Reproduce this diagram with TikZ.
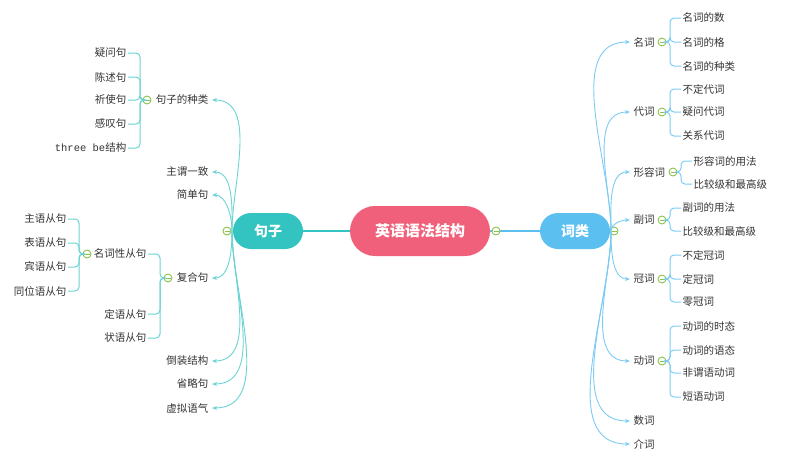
\documentclass[tikz,border=0pt]{standalone}
\usepackage{fontspec}
\setmainfont{Noto Sans CJK SC}
\newfontfamily\monof{Liberation Mono}
\usetikzlibrary{arrows.meta,calc}
\definecolor{pinkc}{HTML}{F0607A}
\definecolor{tealc}{HTML}{33C3C0}
\definecolor{bluec}{HTML}{5BC0F0}
\definecolor{tline}{HTML}{6AD3D3}
\definecolor{bline}{HTML}{7CCBF3}
\definecolor{greenc}{HTML}{8BC34A}
\definecolor{txt}{HTML}{333333}
\begin{document}
\begin{tikzpicture}[x=1pt,y=-1pt,
  every node/.style={font=\fontsize{10.5}{12}\selectfont,text=txt,inner sep=1.5pt},
  lt/.style={anchor=east},
  rt/.style={anchor=west},
  pill/.style={rounded corners=18pt,minimum height=36pt,text=white,font=\fontsize{14}{16}\selectfont\bfseries},
  col/.style={circle,draw=greenc,line width=0.9pt,fill=white,minimum size=8pt,inner sep=0pt,
    path picture={\draw[greenc,line width=0.9pt] ([xshift=-2.5pt]path picture bounding box.center) -- ([xshift=2.5pt]path picture bounding box.center);}},
  tbr/.style={draw=tline,line width=1pt,rounded corners=4pt},
  bbr/.style={draw=bline,line width=1pt,rounded corners=4pt},
  tarr/.style={draw=tline,line width=0.9pt,-{Stealth[length=5pt,width=4pt]}},
  barr/.style={draw=bline,line width=0.9pt,-{Stealth[length=5pt,width=4pt]}},
]
\useasboundingbox (0,0) rectangle (800,456);
% main connectors
\node[pill,fill=pinkc,minimum width=140pt,minimum height=50pt,rounded corners=25pt,font=\fontsize{15}{17}\selectfont\bfseries] (m) at (420,231) {英语语法结构};
\node[pill,fill=tealc,minimum width=70pt] (s) at (268,231) {句子};
\node[pill,fill=bluec,minimum width=70pt] (w) at (575,231) {词类};
\draw[tealc,line width=2pt] (m.west) -- (s.east);
\draw[bluec,line width=2pt] (m.east) -- (w.west);
\node[col] (cm) at (496,231) {};
\node[col] (cs) at (227,231) {};
\node[col] (cw) at (614,231) {};

% ----- left side -----
\coordinate (sj) at (232,231);
\node[lt] (a1) at (210,100) {句子的种类};
\node[lt] (a2) at (210,172) {主谓一致};
\node[lt] (a3) at (210,195) {简单句};
\node[lt] (a4) at (210,278) {复合句};
\node[lt] (a5) at (210,361) {倒装结构};
\node[lt] (a6) at (210,384) {省略句};
\node[lt] (a7) at (210,408) {虚拟语气};
\foreach \n/\o in {a1/90,a2/90,a3/90,a4/-90,a5/-90,a6/-90,a7/-90}
  \draw[tarr] (sj) to[out=\o,in=0,looseness=0.9] ([xshift=2pt]\n.east);

\node[col] (ca1) at (147,100) {};
\coordinate (ba1) at (140,100);
\node[lt] (b1) at (128,53) {疑问句};
\node[lt] (b2) at (128,77) {陈述句};
\node[lt] (b3) at (128,100) {祈使句};
\node[lt] (b4) at (128,124) {感叹句};
\node[lt] (b5) at (128,148) {{\monof three be}结构};
\foreach \n in {b1,b2,b3,b4,b5}
  \draw[tbr] (ca1.west) -- (ba1 |- ca1.west) |- (\n.east);

\node[col] (ca4) at (168,278) {};
\coordinate (ba4) at (160,278);
\node[lt] (d1) at (148,254) {名词性从句};
\node[lt] (d2) at (148,314) {定语从句};
\node[lt] (d3) at (148,338) {状语从句};
\foreach \n in {d1,d2,d3}
  \draw[tbr] (ca4.west) -- (ba4 |- ca4.west) |- (\n.east);

\node[col] (cd1) at (87,254) {};
\coordinate (bd1) at (79,254);
\node[lt] (e1) at (68,219) {主语从句};
\node[lt] (e2) at (68,243) {表语从句};
\node[lt] (e3) at (68,267) {宾语从句};
\node[lt] (e4) at (68,291) {同位语从句};
\foreach \n in {e1,e2,e3,e4}
  \draw[tbr] (cd1.west) -- (bd1 |- cd1.west) |- (\n.east);

% ----- right side -----
\coordinate (wj) at (611,231);
\node[rt] (p1) at (632,42) {名词};
\node[rt] (p2) at (632,112) {代词};
\node[rt] (p3) at (632,172) {形容词};
\node[rt] (p4) at (632,220) {副词};
\node[rt] (p5) at (632,279) {冠词};
\node[rt] (p6) at (632,361) {动词};
\node[rt] (p7) at (632,421) {数词};
\node[rt] (p8) at (632,444) {介词};
\foreach \n/\o in {p1/90,p2/90,p3/90,p4/90,p5/-90,p6/-90,p7/-90,p8/-90}
  \draw[barr] (wj) to[out=\o,in=180,looseness=0.9] ([xshift=-2pt]\n.west);

\node[col] (cp1) at (662,42) {};
\coordinate (bp1) at (670,42);
\foreach \n/\y/\t in {q1/18/名词的数,q2/42/名词的格,q3/66/名词的种类}{
  \node[rt] (\n) at (681,\y) {\t};
  \draw[bbr] (cp1.east) -- (bp1 |- cp1.east) |- (\n.west);}

\node[col] (cp2) at (662,112) {};
\coordinate (bp2) at (670,112);
\foreach \n/\y/\t in {r1/89/不定代词,r2/112/疑问代词,r3/136/关系代词}{
  \node[rt] (\n) at (681,\y) {\t};
  \draw[bbr] (cp2.east) -- (bp2 |- cp2.east) |- (\n.west);}

\node[col] (cp3) at (673,172) {};
\coordinate (bp3) at (681,172);
\foreach \n/\y/\t in {s1/161/形容词的用法,s2/184/比较级和最高级}{
  \node[rt] (\n) at (692,\y) {\t};
  \draw[bbr] (cp3.east) -- (bp3 |- cp3.east) |- (\n.west);}

\node[col] (cp4) at (662,220) {};
\coordinate (bp4) at (670,220);
\foreach \n/\y/\t in {t1/208/副词的用法,t2/231/比较级和最高级}{
  \node[rt] (\n) at (681,\y) {\t};
  \draw[bbr] (cp4.east) -- (bp4 |- cp4.east) |- (\n.west);}

\node[col] (cp5) at (662,279) {};
\coordinate (bp5) at (670,279);
\foreach \n/\y/\t in {u1/255/不定冠词,u2/279/定冠词,u3/302/零冠词}{
  \node[rt] (\n) at (681,\y) {\t};
  \draw[bbr] (cp5.east) -- (bp5 |- cp5.east) |- (\n.west);}

\node[col] (cp6) at (662,361) {};
\coordinate (bp6) at (670,361);
\foreach \n/\y/\t in {v1/326/动词的时态,v2/350/动词的语态,v3/373/非谓语动词,v4/397/短语动词}{
  \node[rt] (\n) at (681,\y) {\t};
  \draw[bbr] (cp6.east) -- (bp6 |- cp6.east) |- (\n.west);}
\end{tikzpicture}
\end{document}
